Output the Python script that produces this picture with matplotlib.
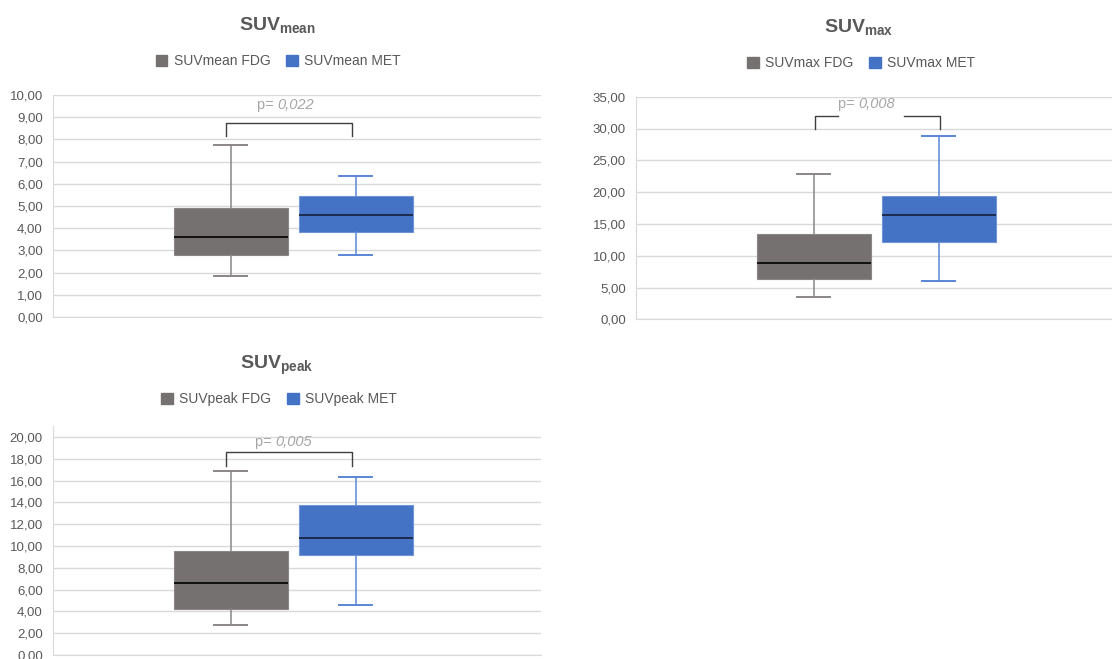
import matplotlib.pyplot as plt
from matplotlib.patches import Patch
from matplotlib.ticker import FuncFormatter, MultipleLocator

plt.rcParams["font.family"] = ["Liberation Sans", "DejaVu Sans"]
plt.rcParams["mathtext.fontset"] = "custom"
plt.rcParams["mathtext.bf"] = "Liberation Sans:bold"
plt.rcParams["mathtext.rm"] = "Liberation Sans"

# five-number summaries: whisker low, q1, median, q3, whisker high
suv_mean_fdg = [1.83, 2.80, 3.60, 4.90, 7.75]
suv_mean_met = [2.78, 3.84, 4.61, 5.46, 6.34]
suv_max_fdg = [3.50, 6.29, 8.80, 13.46, 22.80]
suv_max_met = [6.07, 12.10, 16.40, 19.39, 28.87]
suv_peak_fdg = [2.75, 4.19, 6.58, 9.57, 16.85]
suv_peak_met = [4.56, 9.15, 10.76, 13.73, 16.33]

metrics = ["mean", "max", "peak"]
p_values = ["0,022", "0,008", "0,005"]
y_max = [10, 35, 20]
y_step = [1, 5, 2]

FDG = "#767171"
MET = "#4472C4"
TEXT = "#595959"
GRID = "#D9D9D9"

W, H = 1112, 659


def stats(v):
    return dict(whislo=v[0], q1=v[1], med=v[2], q3=v[3], whishi=v[4], fliers=[])


def draw_box(ax, values, pos, face, edge, whisk, med):
    ax.bxp(
        [stats(values)],
        positions=[pos],
        widths=0.233,
        capwidths=0.068,
        patch_artist=True,
        showfliers=False,
        manage_ticks=False,
        boxprops=dict(facecolor=face, edgecolor=edge, linewidth=0.8),
        whiskerprops=dict(color=whisk, linewidth=1.1),
        capprops=dict(color=whisk, linewidth=1.4),
        medianprops=dict(color=med, linewidth=1.4),
    )


def panel(ax, fdg, met, p, ymax, step, top, bracket, text_y, text_x, gap=None):
    draw_box(ax, fdg, 0.365, FDG, "#8a8686", "#8a8686", "#111111")
    draw_box(ax, met, 0.621, MET, "#6f95d8", "#5a86d6", "#1c2c4c")

    ax.set_ylim(0, top)
    ax.set_yticks([t * step for t in range(int(ymax / step) + 1)])
    ax.yaxis.set_major_formatter(FuncFormatter(lambda v, _: f"{v:.2f}".replace(".", ",")))
    ax.tick_params(axis="y", length=0, pad=7, labelsize=9.5, labelcolor=TEXT)
    ax.set_xticks([])
    ax.yaxis.grid(True, color=GRID, linewidth=1.0)
    ax.set_axisbelow(True)
    for side in ["top", "right"]:
        ax.spines[side].set_visible(False)
    ax.spines["left"].set_color(GRID)
    ax.spines["bottom"].set_color(GRID)

    x0, x1, yt, yl = bracket
    if gap is None:
        ax.plot([x0, x0, x1, x1], [yl, yt, yt, yl], color="#404040", linewidth=1.0)
    else:
        ax.plot([x0, x0, gap[0]], [yl, yt, yt], color="#404040", linewidth=1.0)
        ax.plot([gap[1], x1, x1], [yt, yt, yl], color="#404040", linewidth=1.0)

    ax.text(text_x, text_y, "p= ", ha="right", va="center", color="#A6A6A6", fontsize=10.5)
    ax.text(text_x, text_y, p, ha="left", va="center", color="#A6A6A6",
            fontsize=10.5, style="italic")


fig = plt.figure(figsize=(W / 100, H / 100), dpi=100)

ax1 = fig.add_axes([52.5 / W, 1 - 317 / H, 488.5 / W, 222 / H])
ax1.set_xlim(0, 1)
panel(ax1, suv_mean_fdg, suv_mean_met, p_values[0], y_max[0], y_step[0], 10,
      (0.355, 0.613, 8.72, 8.15), 9.54, 0.461)

ax2 = fig.add_axes([635.5 / W, 1 - 319.3 / H, 476.5 / W, 222.6 / H])
ax2.set_xlim(0, 476.5 / 488.5)
panel(ax2, suv_max_fdg, suv_max_met, p_values[1], y_max[1], y_step[1], 35,
      (0.367, 0.623, 31.9, 30.0), 33.9, 0.457, gap=(0.414, 0.549))

ax3 = fig.add_axes([52.5 / W, 1 - 655 / H, 488.5 / W, 229 / H])
ax3.set_xlim(0, 1)
panel(ax3, suv_peak_fdg, suv_peak_met, p_values[2], y_max[2], y_step[2], 21,
      (0.355, 0.613, 18.6, 17.37), 19.57, 0.457)

# titles and legends sit above each chart area
title_pos = [(277, 30), (859, 32), (277, 369)]
legend_pos = [(278, 61), (861, 63), (279, 399)]
for metric, (tx, ty), (lx, ly) in zip(metrics, title_pos, legend_pos):
    fig.text(tx / W, 1 - ty / H, r"$\mathbf{SUV_{%s}}$" % metric, ha="center",
             va="baseline", fontsize=14, color=TEXT)
    handles = [Patch(facecolor=FDG, edgecolor=FDG), Patch(facecolor=MET, edgecolor=MET)]
    fig.legend(
        handles,
        [f"SUV{metric} FDG", f"SUV{metric} MET"],
        loc="center",
        bbox_to_anchor=(lx / W, 1 - ly / H),
        ncol=2,
        frameon=False,
        fontsize=10,
        handlelength=0.85,
        handleheight=0.85,
        handletextpad=0.45,
        columnspacing=1.1,
        labelcolor=TEXT,
    )

fig.savefig("out.png", dpi=100)
